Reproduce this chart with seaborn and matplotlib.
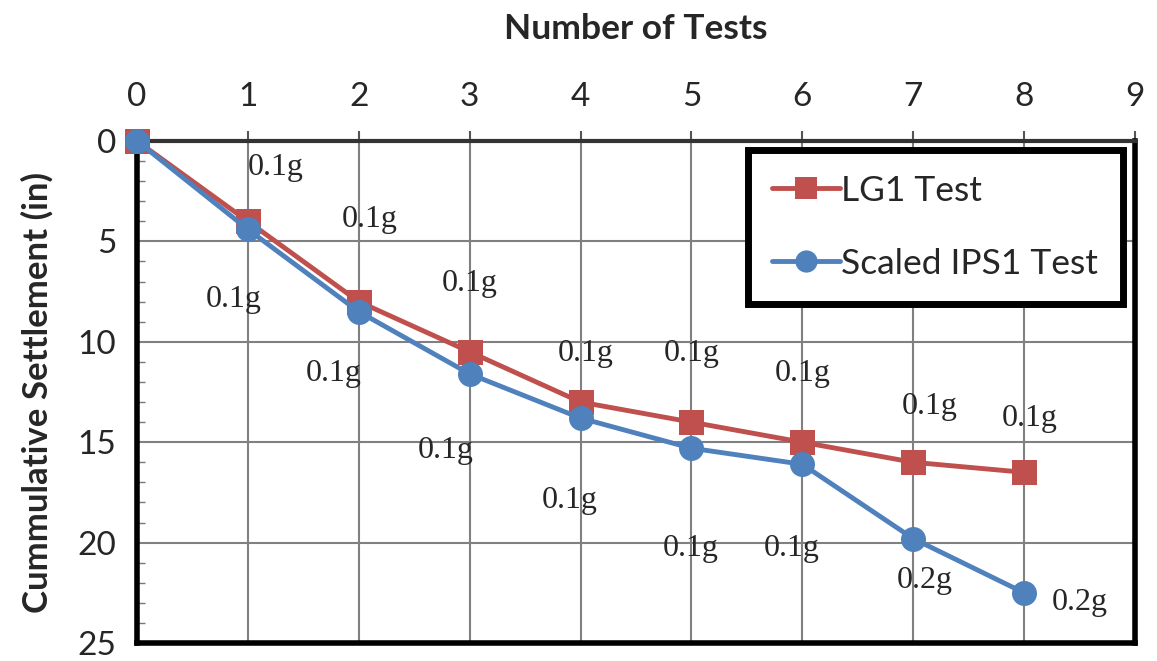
import pandas as pd
import seaborn as sns
import numpy as np
import matplotlib.pyplot as plt
from matplotlib.ticker import MultipleLocator

tests = [0, 1, 2, 3, 4, 5, 6, 7, 8]
lg1 = [0, 4.0, 8.0, 10.5, 13.0, 14.0, 15.0, 16.0, 16.5]
ips1 = [0, 4.4, 8.5, 11.6, 13.8, 15.3, 16.1, 19.8, 22.5]

# acceleration labels (text, x, y)
lg1_notes = ['0.1g'] * 8
lg1_note_x = [1.25, 2.1, 3.0, 4.05, 5.0, 6.0, 7.15, 8.05]
lg1_note_y = [1.3, 3.9, 7.1, 10.6, 10.6, 11.6, 13.2, 13.8]
ips1_notes = ['0.1g', '0.1g', '0.1g', '0.1g', '0.1g', '0.1g', '0.2g', '0.2g']
ips1_note_x = [0.87, 1.77, 2.78, 3.9, 4.99, 5.9, 7.1, 8.5]
ips1_note_y = [7.9, 11.6, 15.4, 17.9, 20.3, 20.3, 21.9, 23.0]

sns.set_style('white')
plt.rcParams['font.family'] = ['Lato', 'DejaVu Sans']

df = pd.DataFrame({'Tests': tests, 'LG1': lg1, 'IPS1': ips1})

fig = plt.figure(figsize=(11.57, 6.61), dpi=100)
ax = fig.add_axes([0.1184, 0.0272, 0.8626, 0.7595])

sns.lineplot(df, x='Tests', y='LG1', ax=ax, color='#C0504D', lw=3.5,
             marker='s', markersize=18, markeredgewidth=0, label='LG1 Test', zorder=3, clip_on=False)
sns.lineplot(df, x='Tests', y='IPS1', ax=ax, color='#4F81BD', lw=3.5,
             marker='o', markersize=18, markeredgewidth=0, label='Scaled IPS1 Test', zorder=4, clip_on=False)

for t, x, y in zip(lg1_notes, lg1_note_x, lg1_note_y):
    ax.text(x, y, t, ha='center', va='center', fontsize=23, family='Liberation Serif', zorder=5)
for t, x, y in zip(ips1_notes, ips1_note_x, ips1_note_y):
    ax.text(x, y, t, ha='center', va='center', fontsize=23, family='Liberation Serif', zorder=5)

ax.set_xlim(0, 9)
ax.set_ylim(25, 0)
ax.xaxis.set_major_locator(MultipleLocator(1))
ax.yaxis.set_major_locator(MultipleLocator(5))
ax.yaxis.set_minor_locator(MultipleLocator(1))
ax.xaxis.tick_top()
ax.xaxis.set_label_position('top')
ax.tick_params(axis='both', which='major', labelsize=24, length=7, width=1.5, direction='out',
               color='#555555')
ax.tick_params(axis='x', which='major', pad=14)
ax.tick_params(axis='y', which='major', pad=8)
ax.tick_params(axis='y', which='minor', length=6, width=1, direction='in', color='#777777', left=True)
ax.grid(True, which='major', color='#808080', lw=1.5)
ax.set_axisbelow(True)

for s in ['left', 'bottom', 'right', 'top']:
    ax.spines[s].set_color('black')
    ax.spines[s].set_linewidth(4)
ax.spines['top'].set_color('#333333')
ax.spines['top'].set_linewidth(3)

ax.set_xlabel('Number of Tests', fontsize=25.5, fontweight='bold', labelpad=31)
ax.set_ylabel('Cummulative Settlement (in)', fontsize=25, fontweight='bold', labelpad=17)

leg = ax.legend(loc='upper right', bbox_to_anchor=(0.988, 0.982), fontsize=25.5, frameon=True,
                fancybox=False, borderpad=0.7, labelspacing=1.15, handlelength=1.9,
                handletextpad=0.05, borderaxespad=0)
leg.get_frame().set_edgecolor('black')
leg.get_frame().set_linewidth(5)
leg.get_frame().set_alpha(1)
for h in leg.legend_handles:
    h.set_markersize(16)

fig.savefig('out.png', dpi=100)
